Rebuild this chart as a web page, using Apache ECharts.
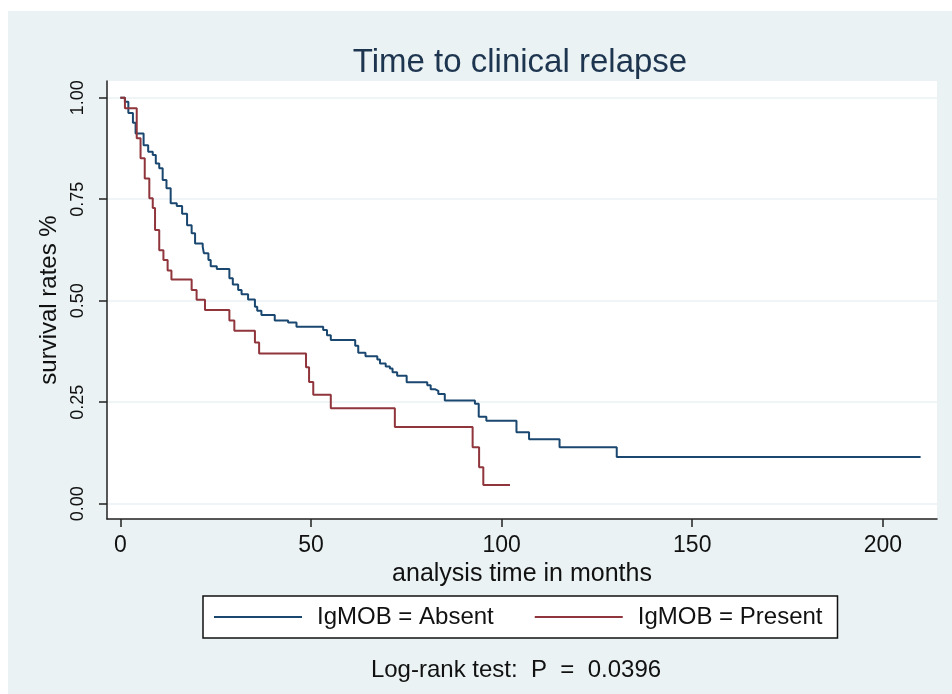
<!DOCTYPE html>
<html>
<head>
<meta charset="UTF-8">
<title>Time to clinical relapse</title>
<script src="https://cdn.jsdelivr.net/npm/echarts@6/dist/echarts.min.js"></script>
<style>
  html, body { margin: 0; padding: 0; background: #fff; }
  #main { width: 952px; height: 694px; }
</style>
</head>
<body>
<div id="main"></div>
<script>
// Kaplan-Meier steps: [time in months], [survival]
var absentTime = [0, 1.2, 2.1, 3.3, 4.0, 6.1, 7.3, 8.5, 9.3, 10.2, 11.1, 12.1, 13.2, 14.8, 16.2,
  17.5, 18.7, 19.6, 21.6, 21.9, 23.1, 23.7, 25.3, 28.6, 29.5, 30.9, 31.8, 33.5, 35.3, 35.9,
  37.0, 40.5, 44.0, 46.2, 53.2, 54.2, 55.2, 61.6, 62.4, 64.3, 67.4, 68.1, 69.6, 70.7, 71.4,
  72.6, 75.1, 80.5, 81.4, 82.5, 83.4, 85.1, 93.0, 94.0, 96.0, 103.9, 107.2, 115.2, 130.2, 209.9];
var absentSurv = [1, 0.990, 0.962, 0.938, 0.912, 0.883, 0.867, 0.859, 0.838, 0.826, 0.797, 0.777, 0.740, 0.733, 0.714,
  0.686, 0.666, 0.641, 0.633, 0.617, 0.600, 0.585, 0.578, 0.555, 0.540, 0.526, 0.516, 0.503, 0.485, 0.475,
  0.465, 0.451, 0.446, 0.436, 0.428, 0.415, 0.403, 0.389, 0.372, 0.363, 0.355, 0.345, 0.338, 0.333, 0.324,
  0.315, 0.299, 0.292, 0.282, 0.278, 0.270, 0.254, 0.246, 0.214, 0.204, 0.176, 0.159, 0.139, 0.115, 0.115];

var presentTime = [0, 1.2, 4.3, 5.3, 6.4, 7.6, 8.5, 9.1, 10.2, 11.3, 12.4, 13.4, 18.7, 20.0, 22.2,
  28.6, 29.9, 35.3, 36.4, 48.7, 49.5, 50.6, 55.2, 72.0, 92.4, 94.1, 95.2, 102.2];
var presentSurv = [1, 0.974, 0.900, 0.851, 0.801, 0.752, 0.728, 0.674, 0.624, 0.600, 0.574, 0.552, 0.526, 0.502, 0.477,
  0.451, 0.426, 0.397, 0.370, 0.336, 0.300, 0.268, 0.235, 0.189, 0.139, 0.090, 0.046, 0.046];

var xTicks = [0, 50, 100, 150, 200];
var yTicks = [0, 0.25, 0.5, 0.75, 1];
var yTickLabels = ['0.00', '0.25', '0.50', '0.75', '1.00'];

var seriesNames = ['IgMOB = Absent', 'IgMOB = Present'];

function pairs(xs, ys) {
  var out = [];
  for (var i = 0; i < xs.length; i++) out.push([xs[i], ys[i]]);
  return out;
}

var font = '"Liberation Sans", Arial, sans-serif';
var axisColor = '#222';

var chart = echarts.init(document.getElementById('main'));

chart.setOption({
  backgroundColor: '#eaf2f3',
  animation: false,
  // white strips on the top and left edge of the image
  graphic: [
    { type: 'rect', left: 0, top: 0, shape: { width: 952, height: 11 }, style: { fill: '#fff' }, silent: true },
    { type: 'rect', left: 0, top: 0, shape: { width: 8, height: 694 }, style: { fill: '#fff' }, silent: true }
  ],
  title: [
    {
      text: 'Time to clinical relapse',
      left: 515,
      textAlign: 'center',
      top: 41,
      textStyle: { fontFamily: font, fontSize: 33, fontWeight: 'normal', color: '#1e3550' }
    },
    {
      text: 'Log-rank test:  P  =  0.0396',
      left: 511,
      textAlign: 'center',
      top: 653,
      textStyle: { fontFamily: font, fontSize: 24, fontWeight: 'normal', color: '#111' }
    }
  ],
  legend: {
    data: seriesNames,
    left: 203,
    top: 596,
    orient: 'horizontal',
    icon: 'rect',
    itemWidth: 88,
    itemHeight: 2,
    itemGap: 41,
    padding: [9, 15, 9, 11],
    backgroundColor: '#fff',
    borderColor: '#111',
    borderWidth: 1.5,
    textStyle: { fontFamily: font, fontSize: 24, color: '#111', padding: [0, 0, 0, 10] }
  },
  grid: {
    left: 107,
    top: 81,
    right: 15,
    bottom: 175,
    show: true,
    backgroundColor: '#fff',
    borderWidth: 0,
    containLabel: false
  },
  xAxis: {
    type: 'value',
    min: -3.5,
    max: 214.2,
    name: 'analysis time in months',
    nameLocation: 'middle',
    nameGap: 42,
    nameTextStyle: { fontFamily: font, fontSize: 25, color: '#111' },
    axisLine: { show: true, onZero: false, lineStyle: { color: axisColor, width: 1.5 } },
    axisTick: { show: true, length: 8, customValues: xTicks, lineStyle: { color: axisColor, width: 1.5 } },
    axisLabel: { customValues: xTicks, margin: 15, fontFamily: font, fontSize: 23, color: '#111' },
    splitLine: { show: false }
  },
  yAxis: {
    type: 'value',
    min: -0.0377,
    max: 1.041,
    name: 'survival rates %',
    nameLocation: 'middle',
    nameGap: 43,
    nameTextStyle: { fontFamily: font, fontSize: 24, color: '#111' },
    axisLine: { show: true, onZero: false, lineStyle: { color: axisColor, width: 1.5 } },
    axisTick: { show: true, length: 8, customValues: yTicks, lineStyle: { color: axisColor, width: 1.5 } },
    axisLabel: {
      customValues: yTicks,
      rotate: 90,
      margin: 20,
      fontFamily: font,
      fontSize: 18,
      color: '#111',
      formatter: function (v) {
        var i = yTicks.indexOf(v);
        return i >= 0 ? yTickLabels[i] : '';
      }
    },
    splitLine: { show: true, lineStyle: { color: '#eaf2f3', width: 1.5 } }
  },
  series: [
    {
      name: seriesNames[0],
      type: 'line',
      step: 'end',
      symbol: 'none',
      color: '#1a476f',
      lineStyle: { width: 2 },
      data: pairs(absentTime, absentSurv)
    },
    {
      name: seriesNames[1],
      type: 'line',
      step: 'end',
      symbol: 'none',
      color: '#90353b',
      lineStyle: { width: 2 },
      data: pairs(presentTime, presentSurv)
    }
  ]
});
</script>
</body>
</html>
